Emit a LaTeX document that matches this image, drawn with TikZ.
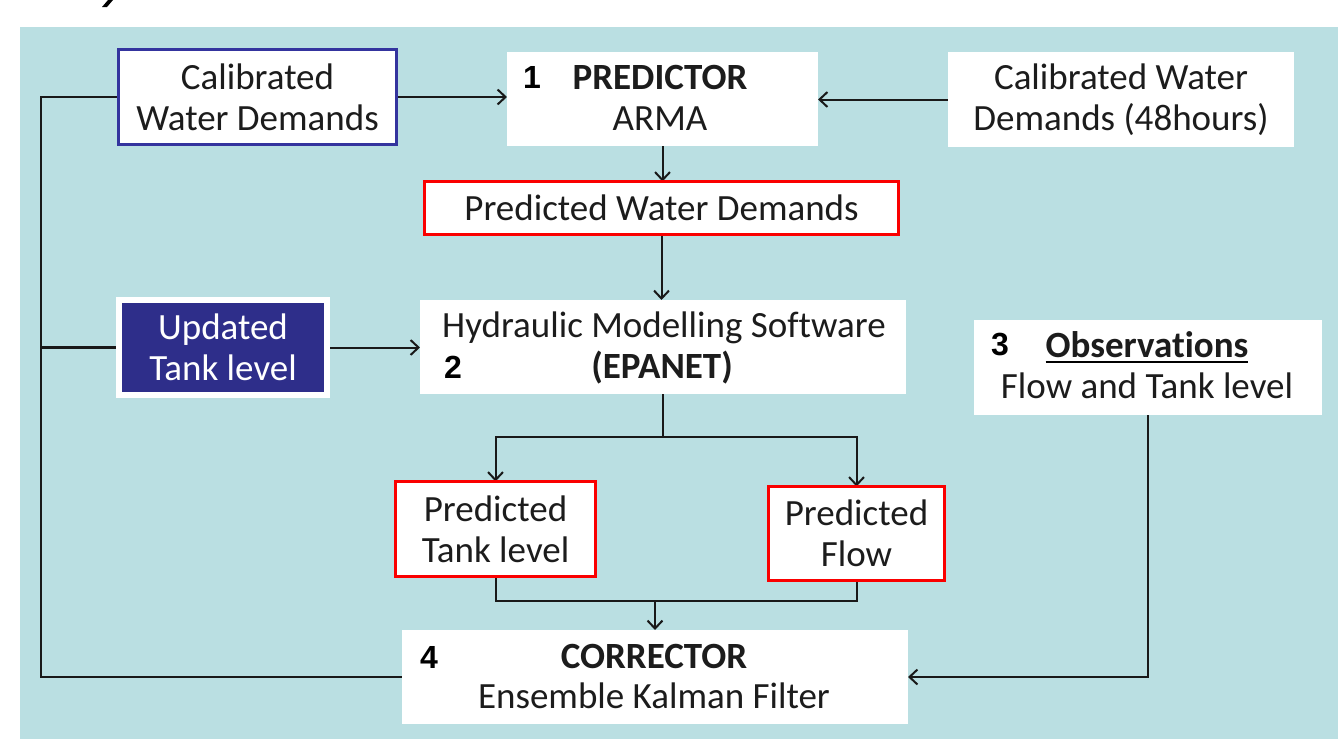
\documentclass[tikz,border=0pt]{standalone}
\usepackage{fontspec}
\setmainfont{Carlito}[Ligatures=NoCommon]
\newfontfamily\numff{Liberation Sans}
\usetikzlibrary{arrows.meta,shadows}
\definecolor{bgblue}{RGB}{186,223,226}
\definecolor{bdblue}{RGB}{52,52,158}
\definecolor{navyfill}{RGB}{46,46,138}
\definecolor{txtc}{RGB}{28,28,28}
\definecolor{linec}{RGB}{25,25,25}
\definecolor{boxred}{RGB}{250,0,0}
\newcommand{\bigtxt}{\fontsize{37}{41}\selectfont}
\newcommand{\numtxt}{\numff\bfseries\fontsize{32}{36}\selectfont}
\pgfdeclarelayer{bglayer}
\pgfsetlayers{bglayer,main}
\begin{document}
\begin{tikzpicture}[x=1pt,y=-1pt,
  box/.style={rectangle, fill=white, inner sep=0pt, outer sep=0pt, align=center, font=\bigtxt, text=txtc},
  bluebox/.style={box, draw=bdblue, line width=3pt},
  redbox/.style={box, draw=boxred, line width=3pt},
  navybox/.style={box, fill=navyfill, draw=white, line width=6pt, text=white,
    drop shadow={shadow xshift=1.5pt, shadow yshift=-2pt, opacity=0.35}},
  txt/.style={inner sep=0pt, outer sep=0pt, font=\bigtxt, text=txtc},
  btxt/.style={txt, font=\bigtxt\bfseries},
  numlbl/.style={inner sep=0pt, outer sep=0pt, font=\numtxt, text=black},
  conn/.style={line width=2pt, draw=linec},
  arr/.style={conn, -{Straight Barb[length=8pt,width=15pt,line width=2pt]}}
]
\useasboundingbox (0,0) rectangle (1338,739);

% boxes
\node[bluebox, minimum width=278pt, minimum height=95pt] (A) at (257.5,97) {Calibrated\\Water Demands};
\node[box, minimum width=311pt, minimum height=94pt] (P) at (662.5,99) {};
\node[box, minimum width=346pt, minimum height=95pt] (CW) at (1121,99.5) {Calibrated Water\\Demands (48hours)};
\node[redbox, minimum width=474pt, minimum height=53pt] (PWD) at (661.5,208) {Predicted Water Demands};
\node[box, minimum width=486pt, minimum height=94pt] (H) at (663,347) {};
\node[navybox, minimum width=208pt, minimum height=95pt] (U) at (223,347.5) {Updated\\Tank level};
\node[box, minimum width=348pt, minimum height=95pt] (O) at (1148,367.5) {};
\node[redbox, minimum width=200pt, minimum height=95pt] (PT) at (495.5,529) {Predicted\\Tank level};
\node[redbox, minimum width=176pt, minimum height=94pt] (PF) at (856.5,533.5) {Predicted\\Flow};
\node[box, minimum width=506pt, minimum height=94pt] (C) at (655,677) {};

% texts inside numbered boxes
\node[numlbl, anchor=base west] (n1) at (523,88) {1};
\node[btxt, anchor=base] (pred) at (660,89) {PREDICTOR};
\node[txt, anchor=base] (arma) at (660,130) {ARMA};

\node[txt, anchor=base] (hyd) at (664,337) {Hydraulic Modelling Software};
\node[numlbl, anchor=base west] (n2) at (444,378) {2};
\node[btxt, anchor=base] (epa) at (662,378) {(EPANET)};

\node[numlbl, anchor=base west] (n3) at (991,355) {3};
\node[btxt, anchor=base] (obs) at (1147,357) {Observations};
\draw[line width=2.2pt, draw=black] ([yshift=-5pt]obs.base west) -- ([yshift=-5pt]obs.base east);
\node[txt, anchor=base] (flow) at (1147,398) {Flow and Tank level};

\node[numlbl, anchor=base west] (n4) at (420,668) {4};
\node[btxt, anchor=base] (corr) at (654,668) {CORRECTOR};
\node[txt, anchor=base] (enkf) at (654,708) {Ensemble Kalman Filter};

% background and connectors
\begin{pgfonlayer}{bglayer}
\fill[bgblue] (20,27) rectangle (1338,739);
\fill[black] (108,0) -- (113,0) -- (107,7) -- (102,7) -- cycle;

\draw[arr] (A.east) -- (A.east -| P.west);
\draw[arr] (CW.west) -- (CW.west -| P.east);
\draw[arr] (P.south) -- (P.south |- PWD.north);
\draw[arr] (PWD.south) -- (PWD.south |- H.north);
\draw[arr] (U.east) -- (U.east -| H.west);

\coordinate (j1) at (663,437);
\draw[conn] (H.south) -- (j1);
\draw[arr] (j1) -| (PT.north);
\draw[arr] (j1) -| (PF.north);

\coordinate (j2) at (655,601);
\draw[conn] (PT.south) |- (j2);
\draw[conn] (PF.south) |- (j2);
\draw[arr] (j2) -- (j2 |- C.north);

\draw[arr] (O.south) |- (C.east);

\coordinate (lb) at (41,677);
\draw[conn, line width=2.6pt] (C.west) -- (lb) |- (A.west);
\draw[conn, line width=2.6pt] (lb |- U.west) -- (U.west);
\end{pgfonlayer}
\end{tikzpicture}
\end{document}
